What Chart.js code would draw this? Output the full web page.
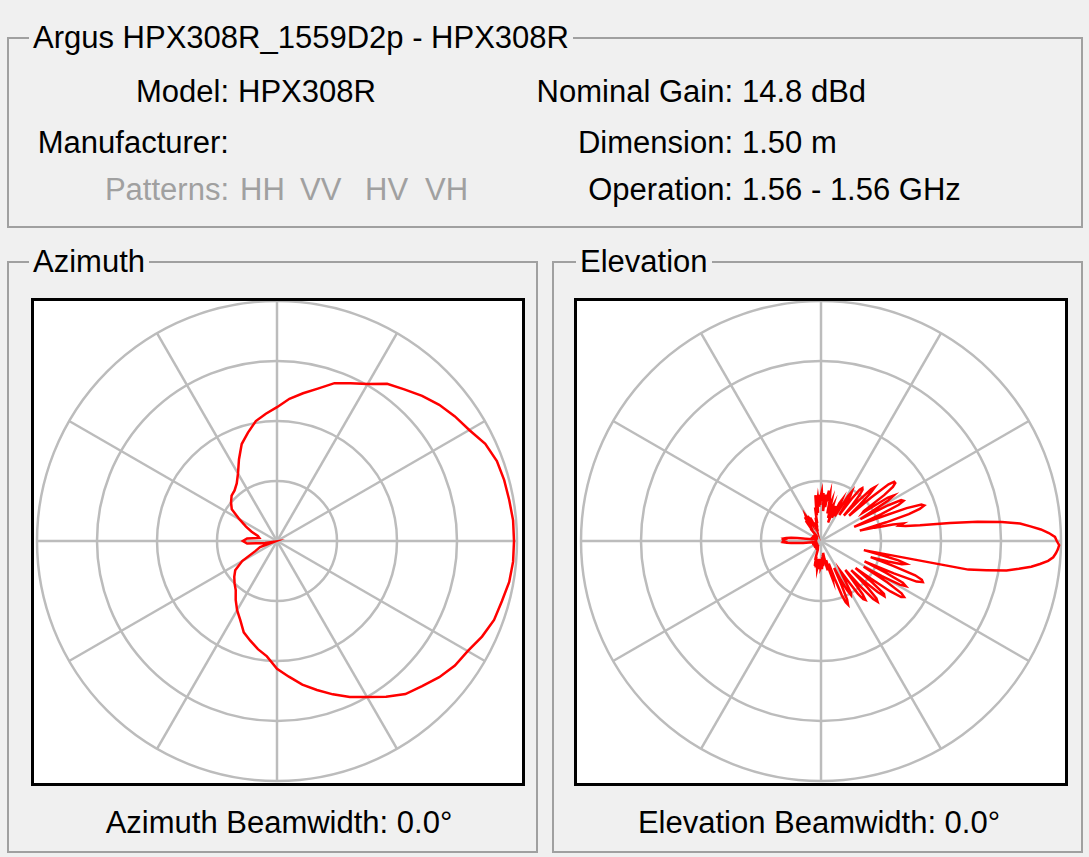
<!DOCTYPE html>
<html>
<head>
<meta charset="utf-8">
<script src="https://cdn.jsdelivr.net/npm/chart.js@4.4.0/dist/chart.umd.min.js"></script>
<style>
body { margin: 0; background: #f0f0f0; font-family: "Liberation Sans", Arial, sans-serif; font-size: 31px; color: #000; }
#page { position: relative; width: 1089px; height: 857px; overflow: hidden; }
.grp { position: absolute; border: 2px solid #a0a0a0; }
.cap { position: absolute; background: #f0f0f0; padding: 0 4px; line-height: 36px; white-space: nowrap; }
.t { position: absolute; line-height: 36px; white-space: nowrap; }
.r { text-align: right; }
.c { text-align: center; }
.grey { color: #a0a0a0; }
.box { position: absolute; border: 3px solid #000; background: #fff; }
canvas { display: block; }
</style>
</head>
<body>
<div id="page">
  <div class="grp" style="left:7px; top:37px; width:1072px; height:187px;"></div>
  <div class="cap" style="left:29px; top:20px;">Argus HPX308R_1559D2p - HPX308R</div>

  <div class="t r" style="left:0; width:229px; top:74px;">Model:</div>
  <div class="t" style="left:238px; top:74px;">HPX308R</div>
  <div class="t r" style="left:0; width:229px; top:125px;">Manufacturer:</div>
  <div class="t r grey" style="left:0; width:229px; top:172px;">Patterns:</div>
  <div class="t grey" style="left:240px; top:172px;">HH</div>
  <div class="t grey" style="left:300px; top:172px;">VV</div>
  <div class="t grey" style="left:365px; top:172px;">HV</div>
  <div class="t grey" style="left:425px; top:172px;">VH</div>

  <div class="t r" style="left:400px; width:333px; top:74px;">Nominal Gain:</div>
  <div class="t" style="left:742px; top:74px;">14.8 dBd</div>
  <div class="t r" style="left:400px; width:333px; top:125px;">Dimension:</div>
  <div class="t" style="left:742px; top:125px;">1.50 m</div>
  <div class="t r" style="left:400px; width:333px; top:172px;">Operation:</div>
  <div class="t" style="left:742px; top:172px;">1.56 - 1.56 GHz</div>

  <div class="grp" style="left:7px; top:261px; width:527px; height:588px;"></div>
  <div class="cap" style="left:29px; top:244px;">Azimuth</div>
  <div class="box" style="left:31px; top:298px; width:488px; height:482px;"><canvas id="azChart" width="488" height="482"></canvas></div>
  <div class="t c" style="left:79px; width:400px; top:805px;">Azimuth Beamwidth: 0.0°</div>

  <div class="grp" style="left:552px; top:261px; width:527px; height:588px;"></div>
  <div class="cap" style="left:576px; top:244px;">Elevation</div>
  <div class="box" style="left:574px; top:298px; width:488px; height:482px;"><canvas id="elChart" width="488" height="482"></canvas></div>
  <div class="t c" style="left:619px; width:400px; top:805px;">Elevation Beamwidth: 0.0°</div>
</div>

<script>
// grid rings in dB (centre of the plot = -40 dB)
const ringDb = [-40, -30, -20, -10, 0];
const spokeEvery = 30; // degrees between spokes

// azimuth pattern, dB, 5 deg steps, counter-clockwise from 0 deg (right)
const azStep = 5;
const azAngles = Array.from({ length: 360 / azStep }, (_, i) => i * azStep);
const azGain = [
  -0.5, -0.5, -0.7, -0.8, -1.0, -1.7, -3.0, -3.8, -4.7, -5.8, -7.0, -8.0,
  -9.8, -11.0, -12.0, -13.7, -15.0, -16.2, -17.7, -18.7, -19.7, -21.3, -22.8, -25.0,
  -27.0, -28.3, -29.0, -29.3, -30.0, -30.8, -32.8, -34.3, -35.5, -36.7, -37.0, -35.0,
  -34.3, -35.0, -38.0, -39.5, -37.0, -36.0, -33.3, -31.5, -30.7, -30.0, -29.3, -28.0,
  -26.7, -25.5, -23.8, -22.8, -21.7, -20.7, -18.7, -17.3, -15.7, -14.3, -12.8, -11.3,
  -10.0, -8.3, -6.7, -5.8, -4.7, -3.8, -3.3, -2.3, -1.5, -1.2, -0.7, -0.5
];

// elevation pattern, dB, 1 deg steps, counter-clockwise from 0 deg (right)
const elStep = 1;
const elAngles = Array.from({ length: 360 / elStep }, (_, i) => i * elStep);
const elGain = [
  -0.7, -1.0, -2.0, -3.3, -5.0, -6.7, -9.7, -13.7, -18.3, -23.3,
  -25.7, -26.7, -26.0, -27.7, -30.8, -33.3, -28.7, -24.7, -22.7, -21.8,
  -22.2, -24.7, -30.0, -34.0, -29.0, -25.7, -24.7, -25.0, -27.3, -32.5,
  -30.3, -27.0, -25.7, -26.7, -31.7, -31.3, -27.0, -25.0, -24.3, -24.3,
  -25.3, -29.0, -33.7, -31.3, -28.7, -27.3, -28.0, -30.8, -34.3, -32.0,
  -30.0, -29.0, -28.8, -29.3, -31.3, -34.7, -33.0, -31.0, -30.3, -31.3,
  -34.3, -35.3, -33.7, -32.3, -33.0, -35.7, -35.0, -33.7, -34.7, -36.7,
  -35.3, -33.7, -34.3, -36.0, -34.3, -33.0, -33.7, -35.3, -33.0, -32.0,
  -33.3, -31.5, -32.7, -34.3, -32.2, -33.3, -35.0, -32.0, -33.3, -31.7,
  -32.3, -34.0, -32.3, -34.3, -32.7, -33.3, -35.3, -32.3, -34.0, -35.7,
  -34.3, -35.7, -37.0, -36.0, -36.7, -37.7, -37.0, -37.7, -38.3, -37.7,
  -38.0, -37.3, -36.7, -37.3, -36.3, -35.7, -36.7, -36.0, -35.3, -36.3,
  -35.7, -35.0, -35.3, -36.0, -35.2, -36.0, -36.7, -35.8, -37.0, -37.7,
  -37.3, -38.7, -39.0, -38.3, -38.8, -39.2, -38.5, -39.0, -38.7, -39.2,
  -38.8, -38.6, -39.1, -38.4, -38.9, -39.3, -38.7, -39.0, -38.5, -39.2,
  -38.9, -38.3, -39.0, -38.7, -39.4, -38.6, -39.1, -38.8, -38.4, -39.0,
  -38.7, -39.2, -38.5, -38.9, -39.3, -38.6, -38.2, -38.8, -38.5, -38.3,
  -38.6, -38.0, -37.0, -36.0, -35.0, -34.2, -33.8, -34.0, -33.7, -33.8,
  -33.7, -34.0, -33.8, -34.3, -35.0, -36.0, -37.0, -38.0, -38.6, -39.0,
  -38.7, -39.3, -38.5, -39.0, -38.8, -39.4, -38.6, -39.1, -38.7, -39.2,
  -38.4, -38.9, -39.3, -38.7, -39.0, -38.5, -39.2, -38.8, -39.1, -38.6,
  -39.0, -38.7, -39.4, -38.5, -38.9, -39.2, -38.6, -39.0, -38.8, -39.3,
  -38.5, -39.1, -38.7, -39.0, -38.4, -38.9, -39.2, -38.6, -39.0, -38.7,
  -39.3, -38.5, -38.8, -39.1, -38.6, -39.0, -38.4, -38.9, -39.2, -38.7,
  -38.5, -39.0, -38.7, -38.3, -38.8, -38.5, -38.9, -38.4, -38.7, -38.2,
  -38.5, -38.0, -37.3, -36.7, -37.3, -36.3, -35.7, -36.7, -35.5, -36.0,
  -37.0, -35.7, -35.3, -36.3, -35.5, -36.7, -35.3, -36.0, -37.0, -35.5,
  -35.7, -36.7, -35.3, -36.0, -37.3, -35.8, -36.3, -37.7, -36.7, -37.3,
  -38.0, -37.0, -35.7, -35.0, -36.0, -36.7, -34.7, -33.3, -34.0, -36.0,
  -33.3, -30.3, -29.0, -28.5, -29.3, -32.0, -35.0, -32.7, -30.7, -29.7,
  -30.0, -31.7, -33.3, -34.0, -32.0, -29.3, -28.0, -27.7, -28.7, -31.7,
  -33.7, -30.0, -27.0, -26.2, -26.7, -29.0, -33.0, -30.3, -27.3, -26.0,
  -26.3, -29.0, -32.7, -29.7, -25.7, -23.7, -23.3, -24.0, -27.0, -31.7,
  -28.3, -25.0, -24.0, -24.7, -28.0, -32.0, -26.7, -22.7, -21.7, -22.0,
  -23.3, -27.3, -31.3, -28.3, -26.0, -25.3, -26.7, -30.0, -32.7, -15.0,
  -12.0, -8.7, -6.7, -4.7, -3.3, -2.0, -1.2, -0.8, -0.5, -0.3
];

function polarPlot(id, angles, gain, step, pad) {
  const n = angles.length;
  // radar goes clockwise from startAngle, the pattern goes counter-clockwise
  const labels = angles.map((a, i) => angles[(n - i) % n] + '°');
  const data = angles.map((a, i) => gain[(n - i) % n]);

  return new Chart(document.getElementById(id), {
    type: 'radar',
    data: {
      labels: labels,
      datasets: [{
        data: data,
        borderColor: '#ff0000',
        borderWidth: 2.5,
        fill: false,
        pointRadius: 0,
        pointHoverRadius: 0,
        tension: 0
      }]
    },
    options: {
      responsive: false,
      animation: false,
      events: [],
      layout: { padding: pad },
      plugins: { legend: { display: false }, tooltip: { enabled: false } },
      scales: {
        r: {
          min: ringDb[0],
          max: ringDb[ringDb.length - 1],
          startAngle: 90,
          ticks: { display: false, stepSize: ringDb[1] - ringDb[0] },
          pointLabels: { display: false },
          grid: { circular: true, color: '#bcbcbc', lineWidth: 2.5 },
          angleLines: {
            color: '#bcbcbc',
            lineWidth: ctx => ((ctx.index * step) % spokeEvery === 0 ? 2.5 : 0)
          }
        }
      }
    }
  });
}

const azChart = polarPlot('azChart', azAngles, azGain, azStep, { left: 3, right: 5, top: 0, bottom: 2 });
const elChart = polarPlot('elChart', elAngles, elGain, elStep, { left: 4, right: 4, top: 0, bottom: 2 });
</script>
</body>
</html>
